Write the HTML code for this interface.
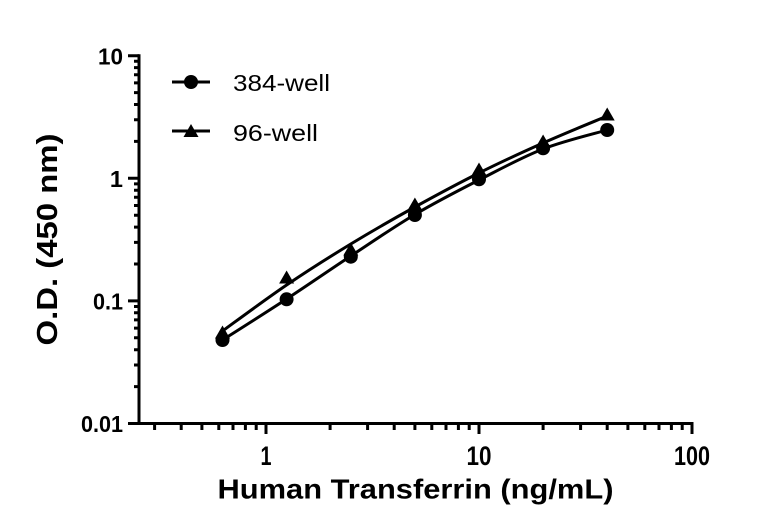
<!DOCTYPE html>
<html><head><meta charset="utf-8"><style>
html,body{margin:0;padding:0;background:#fff;}
svg{display:block;}
text{font-family:"Liberation Sans",Arial,sans-serif;fill:#000;}
</style></head><body>
<svg width="768" height="532" viewBox="0 0 768 532" xmlns="http://www.w3.org/2000/svg">
<g stroke="#000" stroke-width="3" fill="none" stroke-linecap="butt">
<path d="M139 54.2 V425"/>
<path d="M128 423.5 H693.5"/>
<path d="M128 55.7 H139 M128 178.3 H139 M128 300.9 H139"/>
<path d="M134 386.6H139M134 365H139M134 349.7H139M134 337.8H139M134 328.1H139M134 319.9H139M134 312.8H139M134 306.5H139
M134 264H139M134 242.4H139M134 227.1H139M134 215.2H139M134 205.5H139M134 197.3H139M134 190.2H139M134 183.9H139
M134 141.4H139M134 119.8H139M134 104.5H139M134 92.6H139M134 82.9H139M134 74.7H139M134 67.6H139M134 61.3H139"/>
<path d="M266 423.5V434M479 423.5V434M692 423.5V434"/>
<path d="M154.6 423.5V430M181.2 423.5V430M201.9 423.5V430M218.8 423.5V430M233 423.5V430M245.4 423.5V430M256.2 423.5V430
M330.1 423.5V430M367.6 423.5V430M394.2 423.5V430M414.9 423.5V430M431.8 423.5V430M446 423.5V430M458.4 423.5V430M469.2 423.5V430
M543.1 423.5V430M580.6 423.5V430M607.2 423.5V430M627.9 423.5V430M644.8 423.5V430M659 423.5V430M671.4 423.5V430M682.2 423.5V430"/>
<path d="M222.5 331 C233.2 323.3 265.2 299.5 286.6 285 C308 270.5 329.4 257 350.8 244 C372.2 231 393.5 218.8 414.9 207 C436.3 195.2 457.6 183.7 479 173 C500.4 162.3 521.7 152.5 543.1 143 C564.5 133.5 596.5 120.5 607.2 116"/>
<path d="M222.5 340 C233.2 333.2 265.2 313 286.6 299 C308 285 329.4 270.1 350.8 256 C372.2 241.9 393.5 227.2 414.9 214.5 C436.3 201.8 457.6 190.9 479 180 C500.4 169.1 521.7 157.3 543.1 149 C564.5 140.7 596.5 133.2 607.2 130"/>
<path d="M172 82 H210 M172 131 H210"/>
</g>
<g fill="#000">
<polygon points="222.5,325.5 230,338.5 215,338.5"/>
<polygon points="286.6,270.5 294.1,283.5 279.1,283.5"/>
<polygon points="350.8,242.5 358.3,255.5 343.3,255.5"/>
<polygon points="414.9,197.5 422.4,210.5 407.4,210.5"/>
<polygon points="479,162.5 486.5,175.5 471.5,175.5"/>
<polygon points="543.1,134.5 550.6,147.5 535.6,147.5"/>
<polygon points="607.2,107.5 614.7,120.5 599.7,120.5"/>
<circle cx="222.5" cy="340" r="7"/>
<circle cx="286.6" cy="299.3" r="7"/>
<circle cx="350.8" cy="256.7" r="7"/>
<circle cx="414.9" cy="215" r="7"/>
<circle cx="479" cy="179.3" r="7"/>
<circle cx="543.1" cy="148.3" r="7"/>
<circle cx="607.2" cy="130" r="7"/>
<circle cx="191" cy="82" r="7"/>
<polygon points="191,124 198.5,137 183.5,137"/>
</g>
<g font-size="23.5" font-weight="bold" text-anchor="end">
<text x="123" y="64.5" textLength="25" lengthAdjust="spacingAndGlyphs">10</text>
<text x="123" y="187">1</text>
<text x="123" y="309.5" textLength="30" lengthAdjust="spacingAndGlyphs">0.1</text>
<text x="123" y="432" textLength="42" lengthAdjust="spacingAndGlyphs">0.01</text>
</g>
<g font-size="27" font-weight="bold" text-anchor="middle">
<text x="266" y="465" textLength="11" lengthAdjust="spacingAndGlyphs">1</text>
<text x="479" y="465" textLength="25" lengthAdjust="spacingAndGlyphs">10</text>
<text x="692" y="465" textLength="36" lengthAdjust="spacingAndGlyphs">100</text>
</g>
<text x="415.5" y="498.5" font-size="28" font-weight="bold" text-anchor="middle" textLength="396" lengthAdjust="spacingAndGlyphs">Human Transferrin (ng/mL)</text>
<text transform="translate(57,239.5) rotate(-90)" x="0" y="0" font-size="29" font-weight="bold" text-anchor="middle" textLength="212" lengthAdjust="spacingAndGlyphs">O.D. (450 nm)</text>
<text x="233" y="91" font-size="23" textLength="97" lengthAdjust="spacingAndGlyphs">384-well</text>
<text x="233" y="141" font-size="23" textLength="85" lengthAdjust="spacingAndGlyphs">96-well</text>
</svg>
</body></html>
